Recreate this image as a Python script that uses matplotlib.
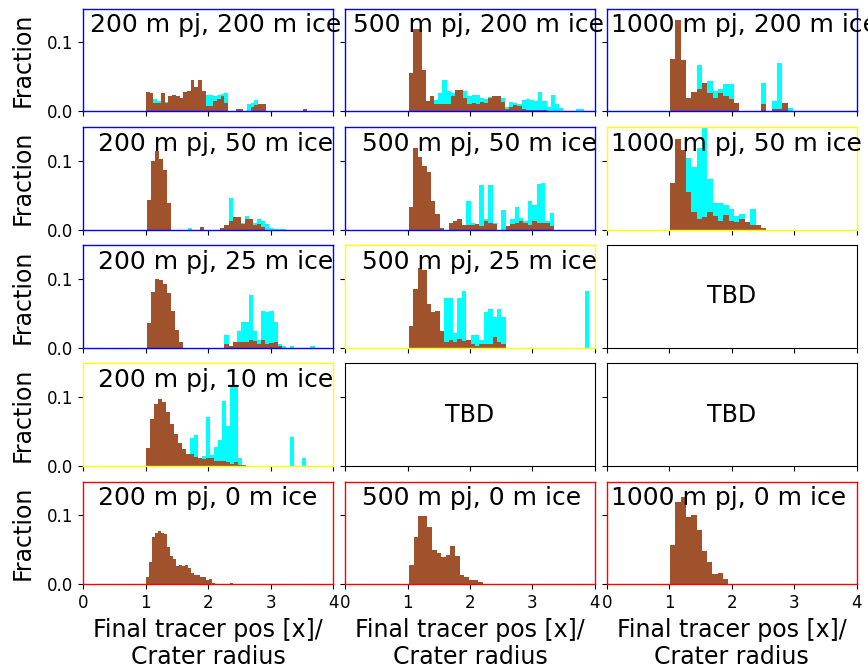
import matplotlib
matplotlib.use("Agg")
from matplotlib import pyplot as plt

# histogram fractions, one pair of lists per panel
# bins: (first edge, bin width) in units of crater radius
bins_200_200 = (1.0, 0.06)
brown_200_200 = [0.028, 0.026, 0.012, 0.012, 0.027, 0.012, 0.022, 0.024, 0.022, 0.020,
                 0.028, 0.030, 0.046, 0.035, 0.046, 0.030, 0.008, 0.008, 0.015, 0.018,
                 0.022, 0.012, 0.001, 0, 0.003, 0.003, 0.001, 0, 0.007, 0.009,
                 0.010, 0.010, 0.001, 0, 0, 0, 0, 0, 0, 0,
                 0, 0, 0.004]
cyan_200_200 = [0, 0, 0.018, 0.015, 0, 0.014, 0, 0, 0, 0,
                0, 0, 0, 0, 0, 0, 0.024, 0.023, 0.022, 0.024,
                0.025, 0.026, 0, 0, 0, 0, 0, 0.011, 0.012, 0.017,
                0.010, 0, 0, 0, 0, 0, 0.001, 0.001, 0.001, 0.001,
                0, 0, 0]

bins_500_200 = (1.024, 0.0667)
brown_500_200 = [0.055, 0.12, 0.12, 0.06, 0.015, 0.022, 0.01, 0.01, 0.01, 0.01,
                 0.022, 0.031, 0.031, 0.02, 0.01, 0.012, 0.01, 0.013, 0.012, 0.02,
                 0.022, 0.022, 0.014, 0.004, 0.007, 0.009, 0.008, 0.003, 0.002, 0.002,
                 0.002, 0.002, 0.002, 0.001, 0.001, 0, 0, 0, 0, 0,
                 0, 0]
cyan_500_200 = [0, 0, 0, 0, 0.015, 0.01, 0.016, 0.027, 0.045, 0.03,
                0.026, 0, 0, 0.03, 0.022, 0.024, 0.023, 0.02, 0.018, 0.021,
                0, 0, 0.02, 0.007, 0.013, 0.012, 0.01, 0.017, 0.018, 0.016,
                0.015, 0.028, 0.015, 0.006, 0.024, 0.01, 0.005, 0, 0, 0,
                0.004, 0.003]

bins_1000_200 = (1.01, 0.0856)
brown_1000_200 = [0.076, 0.133, 0.074, 0.019, 0.028, 0.033, 0.041, 0.027, 0.02, 0.027,
                  0.022, 0.018, 0.012, 0, 0, 0, 0, 0.011, 0, 0.004,
                  0.004, 0.012, 0]
cyan_1000_200 = [0, 0, 0.074, 0.019, 0.028, 0.068, 0, 0.044, 0.03, 0.032,
                 0.039, 0.039, 0, 0, 0, 0, 0, 0.041, 0, 0.015,
                 0.07, 0, 0.005]

bins_200_50 = (1.013, 0.0656)
brown_200_50 = [0.043, 0.1, 0.114, 0.102, 0.086, 0.039, 0, 0, 0, 0,
                0, 0, 0, 0.003, 0, 0, 0, 0, 0.002, 0.006,
                0.012, 0.018, 0.018, 0.008, 0.016, 0.016, 0.006, 0.008, 0.004, 0,
                0, 0, 0, 0]
cyan_200_50 = [0, 0, 0, 0, 0, 0, 0, 0, 0, 0,
               0.002, 0, 0, 0, 0, 0, 0, 0, 0, 0,
               0.046, 0.018, 0, 0.01, 0.02, 0, 0.01, 0.015, 0.012, 0.008,
               0.002, 0.001, 0.001, 0.001]

bins_500_50 = (1.024, 0.0704)
brown_500_50 = [0.033, 0.118, 0.105, 0.093, 0.083, 0.042, 0.023, 0.002, 0, 0.01,
                0.013, 0.015, 0.007, 0.007, 0.007, 0.008, 0.005, 0.012, 0.01, 0.008,
                0, 0, 0.005, 0.008, 0.01, 0.012, 0.01, 0.006, 0.013, 0.01,
                0.01, 0.01, 0.005]
cyan_500_50 = [0, 0, 0, 0, 0, 0, 0, 0, 0, 0,
               0, 0, 0, 0.042, 0.01, 0.007, 0.064, 0.015, 0.064, 0.01,
               0, 0.028, 0.005, 0.015, 0.033, 0.017, 0.012, 0.042, 0.035, 0.066,
               0.067, 0.013, 0.024]

bins_1000_50 = (1.01, 0.0856)
brown_1000_50 = [0.067, 0.131, 0.116, 0.055, 0.025, 0.016, 0.018, 0.025, 0.019, 0.013,
                 0.021, 0.012, 0.011, 0.016, 0.011, 0.007, 0.006, 0.002]
cyan_1000_50 = [0, 0, 0, 0.104, 0.091, 0.118, 0.16, 0.074, 0.038, 0.038,
                0.035, 0.03, 0.02, 0.023, 0.011, 0.03, 0.006, 0]

bins_200_25 = (1.013, 0.0656)
brown_200_25 = [0.036, 0.081, 0.1, 0.098, 0.093, 0.079, 0.054, 0.026, 0.008, 0,
                0, 0, 0, 0, 0, 0, 0, 0, 0, 0.005,
                0.003, 0.008, 0.009, 0.008, 0.009, 0.011, 0.01, 0.006, 0.011, 0.005,
                0.007, 0.009, 0.003, 0, 0, 0, 0, 0, 0, 0,
                0]
cyan_200_25 = [0, 0, 0, 0, 0, 0, 0, 0, 0, 0,
               0, 0, 0, 0, 0, 0, 0, 0, 0, 0.019,
               0, 0.008, 0.024, 0.038, 0.038, 0.077, 0.024, 0.011, 0.053, 0.052,
               0.053, 0.038, 0.006, 0.002, 0, 0.003, 0, 0, 0, 0,
               0.002]

bins_500_25 = (1.024, 0.0704)
brown_500_25 = [0.032, 0.086, 0.116, 0.113, 0.064, 0.052, 0.054, 0.025, 0.008, 0.011,
                0.008, 0.013, 0.01, 0.011, 0.005, 0.003, 0.006, 0.005, 0.006, 0.015,
                0.008, 0.006, 0, 0, 0, 0, 0, 0, 0, 0,
                0, 0, 0, 0, 0, 0, 0, 0, 0, 0,
                0]
cyan_500_25 = [0, 0, 0, 0, 0, 0, 0, 0, 0.073, 0.073,
               0.021, 0.072, 0.083, 0.011, 0.019, 0.019, 0.011, 0.052, 0.057, 0.044,
               0.057, 0.044, 0, 0, 0, 0, 0, 0, 0, 0,
               0, 0, 0, 0, 0, 0, 0, 0, 0, 0,
               0.083]

bins_200_10 = (1.0, 0.064)
brown_200_10 = [0.026, 0.068, 0.09, 0.098, 0.093, 0.078, 0.061, 0.046, 0.033, 0.024,
                0.018, 0.017, 0.013, 0.012, 0.01, 0.012, 0.011, 0.008, 0.007, 0.008,
                0.006, 0.003, 0.006, 0.002, 0.001, 0, 0, 0, 0, 0,
                0, 0, 0, 0, 0, 0, 0, 0, 0, 0]
cyan_200_10 = [0, 0, 0, 0, 0, 0, 0, 0, 0, 0,
               0, 0.041, 0.045, 0.012, 0.015, 0.071, 0.016, 0.027, 0.038, 0.095,
               0.058, 0.116, 0.118, 0.012, 0, 0, 0, 0, 0, 0,
               0, 0, 0, 0, 0, 0, 0.042, 0, 0, 0.011]

bins_200_0 = (1.0, 0.048)
brown_200_0 = [0.011, 0.033, 0.068, 0.075, 0.078, 0.075, 0.073, 0.054, 0.041, 0.037,
               0.027, 0.028, 0.026, 0.028, 0.024, 0.017, 0.013, 0.014, 0.011, 0.01,
               0.006, 0.007, 0.002, 0.001, 0, 0, 0, 0, 0.002, 0,
               0, 0, 0, 0, 0, 0, 0, 0, 0.001, 0]

bins_500_0 = (1.024, 0.0736)
brown_500_0 = [0.028, 0.069, 0.099, 0.099, 0.083, 0.05, 0.045, 0.04, 0.042, 0.055,
               0.041, 0.014, 0.011, 0.006, 0.006, 0.003]

bins_1000_0 = (1.01, 0.085)
brown_1000_0 = [0.057, 0.12, 0.126, 0.097, 0.101, 0.079, 0.048, 0.032, 0.015, 0.016,
                0.007]

pj_sizes = [200, 500, 1000]
ice_depths = [200, 50, 25, 10, 0]

# (bins, brown, cyan, frame colour, label x in data units) per panel, missing = TBD
panels = {
    (0, 0): (bins_200_200, brown_200_200, cyan_200_200, 'blue', 0.1),
    (0, 1): (bins_500_200, brown_500_200, cyan_500_200, 'blue', 0.12),
    (0, 2): (bins_1000_200, brown_1000_200, cyan_1000_200, 'blue', 0.06),
    (1, 0): (bins_200_50, brown_200_50, cyan_200_50, 'blue', 0.24),
    (1, 1): (bins_500_50, brown_500_50, cyan_500_50, 'blue', 0.27),
    (1, 2): (bins_1000_50, brown_1000_50, cyan_1000_50, 'yellow', 0.06),
    (2, 0): (bins_200_25, brown_200_25, cyan_200_25, 'blue', 0.24),
    (2, 1): (bins_500_25, brown_500_25, cyan_500_25, 'yellow', 0.27),
    (3, 0): (bins_200_10, brown_200_10, cyan_200_10, 'yellow', 0.24),
    (4, 0): (bins_200_0, brown_200_0, None, 'red', 0.24),
    (4, 1): (bins_500_0, brown_500_0, None, 'red', 0.27),
    (4, 2): (bins_1000_0, brown_1000_0, None, 'red', 0.06),
}

fig, axes = plt.subplots(5, 3, figsize=(8.68, 6.70), dpi=100, sharex=True, sharey=True)
fig.subplots_adjust(left=0.096, right=0.987, top=0.987, bottom=0.128,
                    wspace=0.048, hspace=0.152)

for r in range(5):
    for c in range(3):
        ax = axes[r, c]
        ax.set_xlim(0, 4)
        ax.set_ylim(0, 0.149)
        ax.set_xticks([0, 1, 2, 3, 4])
        ax.set_yticks([0, 0.1])
        ax.set_yticklabels(['0.0', '0.1'])
        ax.tick_params(labelsize=12)
        info = panels.get((r, c))
        if info is None:
            ax.text(0.5, 0.5, 'TBD', transform=ax.transAxes, ha='center', va='center',
                    fontsize=17)
            continue
        (x0, w), brown, cyan, frame, tx = info
        if cyan is not None:
            edges = [x0 + i * w for i in range(len(cyan))]
            ax.bar(edges, cyan, width=w, align='edge', color='cyan', linewidth=0)
        edges = [x0 + i * w for i in range(len(brown))]
        ax.bar(edges, brown, width=w, align='edge', color='sienna', linewidth=0)
        for sp in ax.spines.values():
            sp.set_color(frame)
            sp.set_linewidth(1.0)
        ax.text(tx, 0.77, f'{pj_sizes[c]} m pj, {ice_depths[r]} m ice',
                transform=ax.get_xaxis_transform(), ha='left', va='baseline',
                fontsize=18)
    axes[r, 0].set_ylabel('Fraction', fontsize=17, labelpad=9)

for c in range(3):
    axes[4, c].set_xlabel('Final tracer pos [x]/\nCrater radius', fontsize=17)

plt.savefig('out.png', dpi=100)
